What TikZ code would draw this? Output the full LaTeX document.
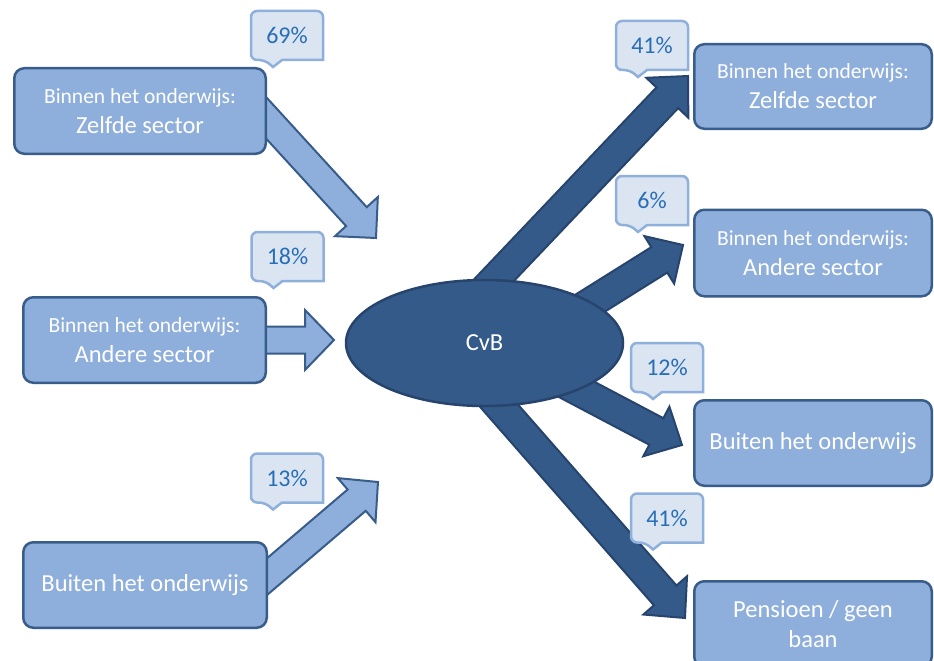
\documentclass[tikz,border=0pt]{standalone}
\usepackage{fontspec}
\setmainfont{Carlito}
\usetikzlibrary{calc,shapes.geometric}
\definecolor{boxfill}{RGB}{142,174,219}
\definecolor{boxline}{RGB}{56,93,138}
\definecolor{darkfill}{RGB}{52,90,138}
\definecolor{darkline}{RGB}{38,68,108}
\definecolor{calfill}{RGB}{219,229,242}
\definecolor{calline}{RGB}{142,176,219}
\definecolor{caltext}{RGB}{40,110,182}
\tikzset{
 box/.style={draw=boxline, fill=boxfill, line width=2.5pt, rounded corners=10pt, text=white, align=center, inner sep=0pt, font=\fontsize{21.5}{30}\selectfont},
 lightarrow/.style={draw=boxline, fill=boxfill, line width=2pt},
 darkarrow/.style={draw=darkline, fill=darkfill, line width=2pt},
 hub/.style={ellipse, draw=darkline, fill=darkfill, line width=2.5pt, text=white, minimum width=277pt, minimum height=126pt, inner sep=0pt, font=\fontsize{24.5}{30}\selectfont},
 callline/.style={draw=calline, fill=calfill, line width=2.5pt},
 calltext/.style={text=caltext, font=\fontsize{24}{28}\selectfont, inner sep=0pt},
}
\newcommand\bigtxt[1]{{\fontsize{24.5}{30}\selectfont #1}}
% block arrow: style, from, to, shaft half width, head half width, head length
\newcommand\blockarrow[6]{%
  \draw[#1] let \p1=($(#3)-(#2)$), \n1={atan2(\y1,\x1)}, \n2={veclen(\x1,\y1)} in
    [shift={(#2)}, rotate=\n1] (0,-#4) -- ({\n2-#6},-#4) -- ({\n2-#6},-#5) -- (\n2,0)
    -- ({\n2-#6},#5) -- ({\n2-#6},#4) -- (0,#4) -- cycle;}
% percentage callout: name, centre, text
\newcommand\pct[3]{%
  \coordinate (#1) at (#2);
  \draw[callline] ([shift={(-36,0)}]#1) [rounded corners=6pt] -- ([shift={(-36,24.5)}]#1)
    -- ([shift={(-22,24.5)}]#1) [sharp corners] -- ([shift={(-14,31.5)}]#1)
    -- ([shift={(-5,24.5)}]#1) -- ([shift={(36,24.5)}]#1) [rounded corners=6pt]
    -- ([shift={(36,-24.5)}]#1) -- ([shift={(-36,-24.5)}]#1) -- cycle;
  \node[calltext] (#1t) at (#1) {#3};}

\begin{document}
\begin{tikzpicture}[x=1pt,y=-1pt]
\useasboundingbox (0,0) rectangle (934,661);
\clip (0,0) rectangle (934,661);
\fill[white] (0,0) rectangle (934,661);

% arrow end points
\coordinate (a1s) at (248,98);  \coordinate (a1e) at (376,238);
\coordinate (a2s) at (250,340); \coordinate (a2e) at (334,340);
\coordinate (a3s) at (249,592); \coordinate (a3e) at (378,482);
\coordinate (b1s) at (478,297); \coordinate (b1e) at (688,76);
\coordinate (b2s) at (560,322); \coordinate (b2e) at (683,245);
\coordinate (b3s) at (555,378); \coordinate (b3e) at (682,445);
\coordinate (b4s) at (480,384); \coordinate (b4e) at (685,618);

% arrows
\blockarrow{lightarrow}{a1s}{a1e}{14}{29}{29}
\blockarrow{lightarrow}{a2s}{a2e}{13.5}{30}{29}
\blockarrow{lightarrow}{a3s}{a3e}{14}{29}{28}
\blockarrow{darkarrow}{b1s}{b1e}{15}{29}{30}
\blockarrow{darkarrow}{b2s}{b2e}{15}{28}{28}
\blockarrow{darkarrow}{b3s}{b3e}{15}{28}{29}
\blockarrow{darkarrow}{b4s}{b4e}{15}{29}{30}

% boxes
\node[box, minimum width=251.5pt, minimum height=85.5pt] (l1) at (140,111) {Binnen het onderwijs:\\\bigtxt{Zelfde sector}};
\node[box, minimum width=242.5pt, minimum height=85.5pt] (l2) at (144.5,340) {Binnen het onderwijs:\\\bigtxt{Andere sector}};
\node[box, minimum width=243.5pt, minimum height=85.5pt, font=\fontsize{24.5}{30}\selectfont] (l3) at (145,585) {Buiten het onderwijs};
\node[box, minimum width=237.5pt, minimum height=84.5pt] (r1) at (813,86.5) {Binnen het onderwijs:\\\bigtxt{Zelfde sector}};
\node[box, minimum width=237.5pt, minimum height=86.5pt] (r2) at (813,253) {Binnen het onderwijs:\\\bigtxt{Andere sector}};
\node[box, minimum width=237.5pt, minimum height=85.5pt, font=\fontsize{24.5}{30}\selectfont] (r3) at (813,443) {Buiten het onderwijs};
\node[box, minimum width=237.5pt, minimum height=85.5pt, font=\fontsize{24.5}{30}\selectfont] (r4) at (813,624) {Pensioen / geen\\baan};

% hub
\node[hub] (cvb) at (484.5,343) {CvB};

% callouts
\pct{p1}{287,35.5}{69\%}
\pct{p2}{287.5,256.5}{18\%}
\pct{p3}{287,478}{13\%}
\pct{q1}{652,45.5}{41\%}
\pct{q2}{652,200.5}{6\%}
\pct{q3}{667,367.5}{12\%}
\pct{q4}{667,518}{41\%}
\end{tikzpicture}
\end{document}
